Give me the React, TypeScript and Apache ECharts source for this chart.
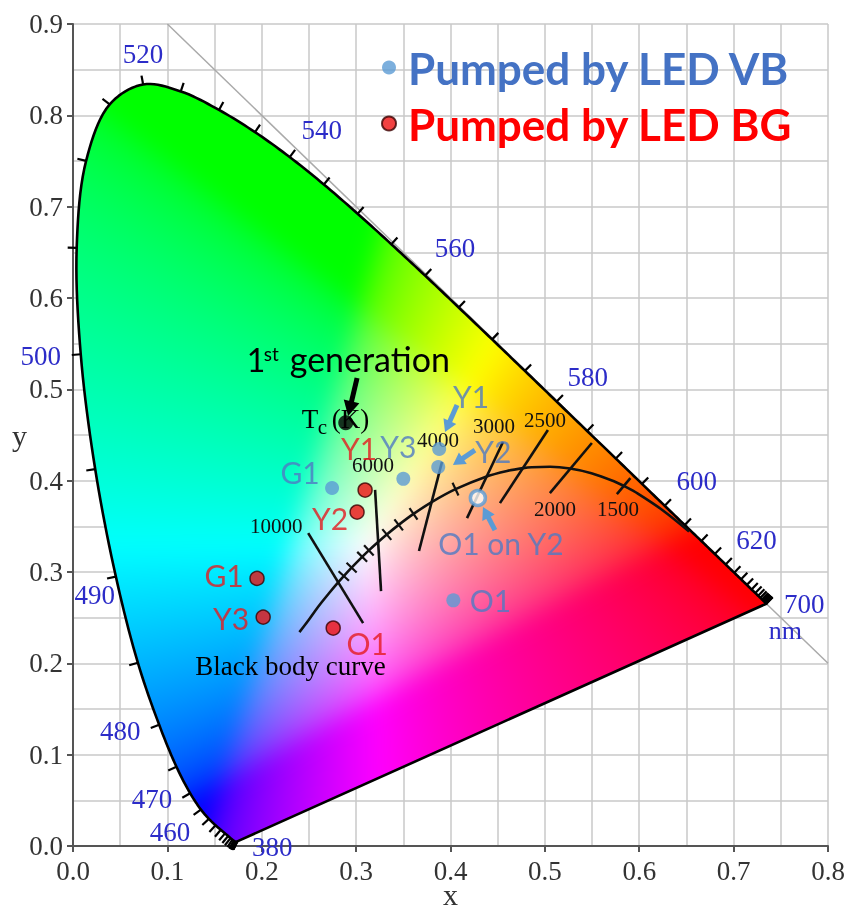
import React, { useEffect, useRef } from "react";
import * as echarts from "echarts";

// ---------- DATA ----------
// CIE 1931 spectral locus, 5 nm steps
const WAVELENGTHS = [
  380, 385, 390, 395, 400, 405, 410, 415, 420, 425, 430, 435, 440, 445, 450, 455, 460, 465, 470, 475,
  480, 485, 490, 495, 500, 505, 510, 515, 520, 525, 530, 535, 540, 545, 550, 555, 560, 565, 570, 575,
  580, 585, 590, 595, 600, 605, 610, 615, 620, 625, 630, 635, 640, 645, 650, 655, 660, 665, 670, 675,
  680, 685, 690, 695, 700,
];
const LOCUS_X = [
  0.1741, 0.174, 0.1738, 0.1736, 0.1733, 0.173, 0.1726, 0.1721, 0.1714, 0.1703, 0.1689, 0.1669, 0.1644, 0.1611, 0.1566, 0.151, 0.144, 0.1355, 0.1241, 0.1096,
  0.0913, 0.0687, 0.0454, 0.0235, 0.0082, 0.0039, 0.0139, 0.0389, 0.0743, 0.1142, 0.1547, 0.1929, 0.2296, 0.2658, 0.3016, 0.3373, 0.3731, 0.4087, 0.4441, 0.4788,
  0.5125, 0.5448, 0.5752, 0.6029, 0.627, 0.6482, 0.6658, 0.6801, 0.6915, 0.7006, 0.7079, 0.714, 0.719, 0.723, 0.726, 0.7283, 0.73, 0.7311, 0.732, 0.7327,
  0.7334, 0.734, 0.7344, 0.7346, 0.7347,
];
const LOCUS_Y = [
  0.005, 0.005, 0.0049, 0.0049, 0.0048, 0.0048, 0.0048, 0.0048, 0.0051, 0.0058, 0.0069, 0.0086, 0.0109, 0.0138, 0.0177, 0.0227, 0.0297, 0.0399, 0.0578, 0.0868,
  0.1327, 0.2007, 0.295, 0.4127, 0.5384, 0.6548, 0.7502, 0.812, 0.8338, 0.8262, 0.8059, 0.7816, 0.7543, 0.7243, 0.6923, 0.6589, 0.6245, 0.5896, 0.5547, 0.5202,
  0.4866, 0.4544, 0.4242, 0.3965, 0.3725, 0.3514, 0.334, 0.3197, 0.3083, 0.2993, 0.292, 0.2859, 0.2809, 0.277, 0.274, 0.2717, 0.27, 0.2689, 0.268, 0.2673,
  0.2666, 0.266, 0.2656, 0.2654, 0.2653,
];
const WL_LABELS = [380, 460, 470, 480, 490, 500, 520, 540, 560, 580, 600, 620, 700];

// Planckian (black body) locus
const PLANCK_T = [1000, 1200, 1400, 1500, 1600, 1800, 2000, 2200, 2400, 2500, 2700, 3000, 3500, 4000, 4500, 5000, 5500, 6000, 6500, 7000, 8000, 9000, 10000, 12000, 15000, 20000, 30000, Infinity];
const PLANCK_X = [0.6528, 0.6251, 0.5985, 0.5857, 0.5732, 0.5493, 0.5267, 0.5056, 0.4862, 0.477, 0.4599, 0.4369, 0.4053, 0.3805, 0.3608, 0.3451, 0.3325, 0.3221, 0.3135, 0.3064, 0.2952, 0.2869, 0.2807, 0.2719, 0.2637, 0.2565, 0.2501, 0.2399];
const PLANCK_Y = [0.3444, 0.3674, 0.3858, 0.3931, 0.3993, 0.4082, 0.4133, 0.4152, 0.4147, 0.4137, 0.4106, 0.4041, 0.3907, 0.3768, 0.3636, 0.3516, 0.3411, 0.3318, 0.3237, 0.3166, 0.3048, 0.2956, 0.2884, 0.2776, 0.2671, 0.2574, 0.2481, 0.2342];
const PLANCK_TICK_T = [9000, 8000, 7000, 6500, 5500, 5000, 4500, 3500];

// Isotherm segments (bottom end -> top end)
const ISO_LABELS = ["10000", "6000", "4000", "3000", "2500", "2000", "1500"];
const ISO_X1 = [0.3074, 0.3264, 0.3666, 0.4175, 0.4524, 0.5053, 0.5763];
const ISO_Y1 = [0.244, 0.279, 0.323, 0.359, 0.3754, 0.3864, 0.3853];
const ISO_X2 = [0.2492, 0.3201, 0.391, 0.4556, 0.5032, 0.5498, 0.5906];
const ISO_Y2 = [0.3426, 0.3899, 0.4205, 0.4423, 0.4554, 0.4412, 0.4028];

// Measured chromaticities
const VB_NAMES = ["G1", "Y3", "Y1", "Y2", "O1"];
const VB_X = [0.2745, 0.35, 0.388, 0.387, 0.403];
const VB_Y = [0.392, 0.402, 0.4347, 0.415, 0.269];
const O1_ON_Y2 = [0.429, 0.381];
const BG_NAMES = ["Y1", "Y2", "G1", "Y3", "O1"];
const BG_X = [0.3095, 0.301, 0.195, 0.2015, 0.2757];
const BG_Y = [0.3897, 0.3656, 0.293, 0.2506, 0.2386];
const FIRST_GEN = [0.289, 0.4634];

// Annotation arrows: tail x, tail y, tip x, tip y
const ARROW_X1 = [0.301, 0.4069, 0.4259, 0.4471];
const ARROW_Y1 = [0.5124, 0.4829, 0.4335, 0.3459];
const ARROW_X2 = [0.2915, 0.3942, 0.4026, 0.4344];
const ARROW_Y2 = [0.4708, 0.4532, 0.4171, 0.3711];

const X_MIN = 0, X_MAX = 0.8, Y_MIN = 0, Y_MAX = 0.9;

// ---------- STYLE ----------
const SERIF = "'Liberation Serif', 'Times New Roman', serif";
const SANS = "Lato, 'Open Sans', sans-serif";
const WL_COLOR = "#2c2cc8";
const BLUE_DOT = "#5b9bd5";
const BLUE_TXT = "#4f7bc3";
const RED_DOT = "#ee1111";
const RED_TXT = "#e51a1e";

const WL_LABEL_OFFSET: Record<number, number[]> = {
  380: [35, 6], 460: [-39, 13], 470: [-38, 6], 480: [-39, 6], 490: [-21, 18], 500: [-40, 2],
  520: [0, -30], 540: [32, -27], 560: [30, -28], 580: [31, -25], 600: [32, -25], 620: [31, -24], 700: [38, 0],
};
// [end used as anchor (0 bottom, 1 top), dx, dy]
const ISO_LABEL_OFFSET = [[1, -32, -7], [1, -2, -25], [1, -4, -22], [1, -9, -16], [1, -3, -10], [0, 5, 16], [0, 1, 15]];
const VB_LABEL_OFFSET = [[-32, -16], [-5, -33], [32, -53], [55, -16], [37, 0]];
const BG_LABEL_OFFSET = [[-6, -42], [-27, 6], [-33, -3], [-32, 1], [34, 15]];
const ARROW_STYLE = [
  { color: "#000", width: 5, head: 15, half: 8 },
  { color: BLUE_DOT, width: 5, head: 12, half: 7 },
  { color: BLUE_DOT, width: 5, head: 12, half: 7 },
  { color: BLUE_DOT, width: 5, head: 12, half: 7 },
];

// ---------- HELPERS ----------
function dist(a: number[], b: number[]) {
  return Math.hypot(a[0] - b[0], a[1] - b[1]);
}

function centripetal(pts: number[][], steps: number) {
  const out: number[][] = [];
  const n = pts.length;
  for (let i = 0; i < n - 1; i++) {
    const p1 = pts[i], p2 = pts[i + 1];
    const p0 = i > 0 ? pts[i - 1] : [2 * p1[0] - p2[0], 2 * p1[1] - p2[1]];
    const p3 = i + 2 < n ? pts[i + 2] : [2 * p2[0] - p1[0], 2 * p2[1] - p1[1]];
    const t0 = 0;
    const t1 = t0 + Math.sqrt(Math.max(dist(p0, p1), 1e-4));
    const t2 = t1 + Math.sqrt(Math.max(dist(p1, p2), 1e-4));
    const t3 = t2 + Math.sqrt(Math.max(dist(p2, p3), 1e-4));
    for (let s = 0; s < steps; s++) {
      const t = t1 + ((t2 - t1) * s) / steps;
      const pt = [0, 0];
      for (let k = 0; k < 2; k++) {
        const a1 = ((t1 - t) / (t1 - t0)) * p0[k] + ((t - t0) / (t1 - t0)) * p1[k];
        const a2 = ((t2 - t) / (t2 - t1)) * p1[k] + ((t - t1) / (t2 - t1)) * p2[k];
        const a3 = ((t3 - t) / (t3 - t2)) * p2[k] + ((t - t2) / (t3 - t2)) * p3[k];
        const b1 = ((t2 - t) / (t2 - t0)) * a1 + ((t - t0) / (t2 - t0)) * a2;
        const b2 = ((t3 - t) / (t3 - t1)) * a2 + ((t - t1) / (t3 - t1)) * a3;
        pt[k] = ((t2 - t) / (t2 - t1)) * b1 + ((t - t1) / (t2 - t1)) * b2;
      }
      out.push(pt);
    }
  }
  out.push(pts[n - 1]);
  return out;
}

function locusPath(api: any) {
  const raw = LOCUS_X.map((x, i) => api.coord([x, LOCUS_Y[i]]));
  const kept: number[][] = [raw[0]];
  for (let i = 1; i < raw.length; i++) {
    if (dist(raw[i], kept[kept.length - 1]) > 1.5 || i === raw.length - 1) kept.push(raw[i]);
  }
  return centripetal(kept, 10);
}

function cieColor(x: number, y: number) {
  const yy = Math.max(y, 0.002);
  const X = x / yy, Y = 1, Z = (1 - x - yy) / yy;
  let r = 3.2406 * X - 1.5372 * Y - 0.4986 * Z;
  let g = -0.9689 * X + 1.8758 * Y + 0.0415 * Z;
  let b = 0.0557 * X - 0.204 * Y + 1.057 * Z;
  r = Math.max(r, 0); g = Math.max(g, 0); b = Math.max(b, 0);
  const m = Math.max(r, g, b) || 1;
  const gam = (c: number) => (c <= 0.0031308 ? 12.92 * c : 1.055 * Math.pow(c, 1 / 2.4) - 0.055);
  return [gam(r / m) * 255, gam(g / m) * 255, gam(b / m) * 255];
}

let fillCache: { key: string; url: string } | null = null;

function renderFill(params: any, api: any) {
  const tl = api.coord([X_MIN, Y_MAX]);
  const br = api.coord([X_MAX, Y_MIN]);
  const w = Math.max(1, Math.round(br[0] - tl[0]));
  const h = Math.max(1, Math.round(br[1] - tl[1]));
  const key = `${w}x${h}x${tl[0]}x${tl[1]}`;
  if (!fillCache || fillCache.key !== key) {
    const path = locusPath(api).map((p) => [p[0] - tl[0], p[1] - tl[1]]);
    const pad = 40;
    const W = w + 2 * pad, H = h + 2 * pad;
    const a = document.createElement("canvas");
    a.width = W; a.height = H;
    const actx = a.getContext("2d")!;
    const img = actx.createImageData(W, H);
    const d = img.data;
    for (let j = 0; j < H; j++) {
      const y = Y_MAX - ((j - pad + 0.5) / h) * (Y_MAX - Y_MIN);
      for (let i = 0; i < W; i++) {
        const x = X_MIN + ((i - pad + 0.5) / w) * (X_MAX - X_MIN);
        const col = cieColor(Math.max(x, -0.02), y);
        const o = (j * W + i) * 4;
        d[o] = col[0]; d[o + 1] = col[1]; d[o + 2] = col[2]; d[o + 3] = 255;
      }
    }
    actx.putImageData(img, 0, 0);
    const c = document.createElement("canvas");
    c.width = w; c.height = h;
    const ctx = c.getContext("2d")!;
    ctx.filter = "blur(11px)";
    ctx.drawImage(a, -pad, -pad);
    ctx.filter = "none";
    ctx.globalCompositeOperation = "destination-in";
    ctx.beginPath();
    path.forEach((p, i) => (i === 0 ? ctx.moveTo(p[0], p[1]) : ctx.lineTo(p[0], p[1])));
    ctx.closePath();
    ctx.fillStyle = "#000";
    ctx.fill();
    fillCache = { key, url: c.toDataURL("image/png") };
  }
  return {
    type: "image",
    silent: true,
    style: { image: fillCache.url, x: tl[0], y: tl[1], width: w, height: h },
  };
}

function renderOutline(params: any, api: any) {
  return {
    type: "polygon",
    silent: true,
    shape: { points: locusPath(api) },
    style: { fill: "none", stroke: "#000", lineWidth: 2.6, lineJoin: "round" },
  };
}

function renderWlTick(params: any, api: any) {
  const i = params.dataIndex;
  const pts = LOCUS_X.map((x, k) => api.coord([x, LOCUS_Y[k]]));
  const p = pts[i];
  let j = i, k = i;
  for (let m = i - 1; m >= 0; m--) { j = m; if (dist(pts[m], p) > 6) break; }
  for (let m = i + 1; m < pts.length; m++) { k = m; if (dist(pts[m], p) > 6) break; }
  const tx = pts[k][0] - pts[j][0], ty = pts[k][1] - pts[j][1];
  const len = Math.hypot(tx, ty) || 1;
  const nx = ty / len, ny = -tx / len;
  const children: any[] = [
    {
      type: "line",
      shape: { x1: p[0], y1: p[1], x2: p[0] + nx * 9, y2: p[1] + ny * 9 },
      style: { stroke: "#000", lineWidth: 2.2 },
    },
  ];
  const wl = WAVELENGTHS[i];
  if (WL_LABELS.indexOf(wl) >= 0) {
    const off = WL_LABEL_OFFSET[wl];
    children.push({
      type: "text",
      style: {
        text: String(wl), x: p[0] + off[0], y: p[1] + off[1], align: "center", verticalAlign: "middle",
        font: `27px ${SERIF}`, fill: WL_COLOR,
      },
    });
    if (wl === 700) {
      children.push({
        type: "text",
        style: {
          text: "nm", x: p[0] + 19, y: p[1] + 27, align: "center", verticalAlign: "middle",
          font: `26px ${SERIF}`, fill: WL_COLOR,
        },
      });
    }
  }
  return { type: "group", silent: true, children };
}

function renderIso(params: any, api: any) {
  const i = params.dataIndex;
  const a = api.coord([api.value(0), api.value(1)]);
  const b = api.coord([api.value(2), api.value(3)]);
  const off = ISO_LABEL_OFFSET[i];
  const anchor = off[0] === 1 ? b : a;
  return {
    type: "group",
    silent: true,
    children: [
      { type: "line", shape: { x1: a[0], y1: a[1], x2: b[0], y2: b[1] }, style: { stroke: "#111", lineWidth: 2.6 } },
      {
        type: "text",
        style: {
          text: ISO_LABELS[i], x: anchor[0] + off[1], y: anchor[1] + off[2], align: "center", verticalAlign: "middle",
          font: `21px ${SERIF}`, fill: "#111",
        },
      },
    ],
  };
}

function renderPlanckTick(params: any, api: any) {
  const idx = PLANCK_T.indexOf(PLANCK_TICK_T[params.dataIndex]);
  const p = api.coord([PLANCK_X[idx], PLANCK_Y[idx]]);
  const a = api.coord([PLANCK_X[idx - 1], PLANCK_Y[idx - 1]]);
  const b = api.coord([PLANCK_X[idx + 1], PLANCK_Y[idx + 1]]);
  const tx = b[0] - a[0], ty = b[1] - a[1];
  const len = Math.hypot(tx, ty) || 1;
  const nx = ty / len, ny = -tx / len;
  return {
    type: "line",
    silent: true,
    shape: { x1: p[0] - nx * 7, y1: p[1] - ny * 7, x2: p[0] + nx * 7, y2: p[1] + ny * 7 },
    style: { stroke: "#111", lineWidth: 2.2 },
  };
}

function renderArrow(params: any, api: any) {
  const st = ARROW_STYLE[params.dataIndex];
  const a = api.coord([api.value(0), api.value(1)]);
  const b = api.coord([api.value(2), api.value(3)]);
  const dx = b[0] - a[0], dy = b[1] - a[1];
  const len = Math.hypot(dx, dy) || 1;
  const ux = dx / len, uy = dy / len;
  const bx = b[0] - ux * st.head, by = b[1] - uy * st.head;
  const px = -uy, py = ux;
  return {
    type: "group",
    silent: true,
    children: [
      { type: "line", shape: { x1: a[0], y1: a[1], x2: bx + ux, y2: by + uy }, style: { stroke: st.color, lineWidth: st.width } },
      {
        type: "polygon",
        shape: { points: [[b[0], b[1]], [bx + px * st.half, by + py * st.half], [bx - px * st.half, by - py * st.half]] },
        style: { fill: st.color },
      },
    ],
  };
}

function renderNotes(params: any, api: any) {
  const p = api.coord([api.value(0), api.value(1)]);
  const kind = api.value(2);
  const t = (text: string, dx: number, dy: number, font: string, align = "left") => ({
    type: "text",
    style: { text, x: p[0] + dx, y: p[1] + dy, align, verticalAlign: "middle", font, fill: "#000" },
  });
  if (kind === 0) {
    return {
      type: "group",
      silent: true,
      children: [
        t("1", -99, -63, `32px ${SANS}`),
        t("st", -82, -69, `19px ${SANS}`),
        t("generation", -56, -64, `34px ${SANS}`),
        t("T", -44, -4, `27px ${SERIF}`),
        t("c", -28, 4, `21px ${SERIF}`),
        t("(K)", -14, -4, `27px ${SERIF}`),
      ],
    };
  }
  return { type: "group", silent: true, children: [t("Black body curve", -9, 34, `27px ${SERIF}`, "center")] };
}

function buildOption(): any {
  const axisCommon = {
    type: "value",
    nameLocation: "middle",
    nameMoveOverlap: false,
    nameTextStyle: { fontFamily: SERIF, fontSize: 30, color: "#333" },
    axisLine: { show: true, onZero: false, lineStyle: { color: "#555", width: 2 } },
    axisTick: { show: true, length: 6, lineStyle: { color: "#555", width: 2 } },
    axisLabel: {
      fontFamily: SERIF, fontSize: 27, color: "#333",
      formatter: (v: number) => v.toFixed(1), showMinLabel: true, showMaxLabel: true,
    },
    splitLine: { show: true, lineStyle: { color: "#c8c8c8", width: 1.5 } },
    minorTick: { show: false, splitNumber: 2 },
    minorSplitLine: { show: true, lineStyle: { color: "#c8c8c8", width: 1.5 } },
  };
  return {
    animation: false,
    grid: { left: 73, right: 22, top: 24, bottom: 64, containLabel: false, outerBoundsMode: "none" },
    xAxis: { ...axisCommon, min: X_MIN, max: X_MAX, interval: 0.1, name: "x", nameGap: 33, axisLabel: { ...axisCommon.axisLabel, margin: 11 } },
    yAxis: { ...axisCommon, min: Y_MIN, max: Y_MAX, interval: 0.1, name: "y", nameGap: 46, nameRotate: 0, axisLabel: { ...axisCommon.axisLabel, margin: 10 } },
    legend: {
      orient: "vertical",
      left: 376,
      top: 39,
      itemWidth: 28,
      itemHeight: 14,
      itemGap: 9,
      icon: "circle",
      selectedMode: false,
      textStyle: { fontFamily: SANS, fontWeight: "bold", fontSize: 44, lineHeight: 47 },
      data: [
        { name: "Pumped by LED VB", textStyle: { color: "#4472c4" } },
        { name: "Pumped by LED BG", textStyle: { color: "#ff0000" } },
      ],
    },
    series: [
      {
        type: "line", name: "x+y=1", z: 1, silent: true, showSymbol: false,
        lineStyle: { color: "#aaa", width: 1.5 },
        data: [[0.1, 0.9], [0.8, 0.2]],
      },
      { type: "custom", name: "fill", z: 2, silent: true, renderItem: renderFill, data: [[0, 0]] },
      { type: "custom", name: "outline", z: 3, silent: true, renderItem: renderOutline, data: [[0, 0]] },
      {
        type: "custom", name: "wavelengths", z: 3, silent: true, renderItem: renderWlTick,
        data: WAVELENGTHS.map((w, i) => [LOCUS_X[i], LOCUS_Y[i], w]),
      },
      {
        type: "line", name: "Black body curve", z: 4, silent: true, showSymbol: false, smooth: 0.3,
        lineStyle: { color: "#111", width: 2.6 },
        data: PLANCK_X.map((x, i) => [x, PLANCK_Y[i]]),
      },
      {
        type: "custom", name: "planckTicks", z: 4, silent: true, renderItem: renderPlanckTick,
        data: PLANCK_TICK_T.map((T) => {
          const i = PLANCK_T.indexOf(T);
          return [PLANCK_X[i], PLANCK_Y[i]];
        }),
      },
      {
        type: "custom", name: "isotherms", z: 4, silent: true, renderItem: renderIso,
        data: ISO_X1.map((x, i) => [x, ISO_Y1[i], ISO_X2[i], ISO_Y2[i]]),
      },
      {
        type: "custom", name: "notes", z: 5, silent: true, renderItem: renderNotes,
        data: [[FIRST_GEN[0], FIRST_GEN[1], 0], [PLANCK_X[PLANCK_X.length - 1], PLANCK_Y[PLANCK_Y.length - 1], 1]],
      },
      {
        type: "custom", name: "arrows", z: 7, silent: true, renderItem: renderArrow,
        data: ARROW_X1.map((x, i) => [x, ARROW_Y1[i], ARROW_X2[i], ARROW_Y2[i]]),
      },
      {
        type: "scatter", name: "Pumped by LED VB", z: 6, symbolSize: 14,
        itemStyle: { color: BLUE_DOT },
        label: { show: true, formatter: "{b}", position: "inside", color: BLUE_TXT, fontFamily: SANS, fontSize: 30 },
        data: VB_NAMES.map((n, i) => ({ name: n, value: [VB_X[i], VB_Y[i]], label: { offset: VB_LABEL_OFFSET[i] } })),
      },
      {
        type: "scatter", name: "O1 on Y2", z: 6, symbolSize: 15,
        itemStyle: { color: "#fff", borderColor: BLUE_DOT, borderWidth: 3.5 },
        label: { show: true, formatter: "{b}", position: "inside", color: BLUE_TXT, fontFamily: SANS, fontSize: 30, offset: [23, 45] },
        data: [{ name: "O1 on Y2", value: O1_ON_Y2 }],
      },
      {
        type: "scatter", name: "Pumped by LED BG", z: 6, symbolSize: 14,
        itemStyle: { color: RED_DOT, borderColor: "#3a0000", borderWidth: 1.5 },
        label: { show: true, formatter: "{b}", position: "inside", color: RED_TXT, fontFamily: SANS, fontSize: 30 },
        data: BG_NAMES.map((n, i) => ({ name: n, value: [BG_X[i], BG_Y[i]], label: { offset: BG_LABEL_OFFSET[i] } })),
      },
      {
        type: "scatter", name: "1st generation", z: 6, symbolSize: 15,
        itemStyle: { color: "#000" },
        data: [FIRST_GEN],
      },
    ],
  };
}

export default function App() {
  const ref = useRef<HTMLDivElement>(null);
  useEffect(() => {
    if (!ref.current) return;
    const chart = echarts.init(ref.current, null, { renderer: "svg" });
    chart.setOption(buildOption());
    return () => chart.dispose();
  }, []);
  return <div ref={ref} style={{ position: "fixed", left: 0, top: 0, width: 850, height: 910 }} />;
}
